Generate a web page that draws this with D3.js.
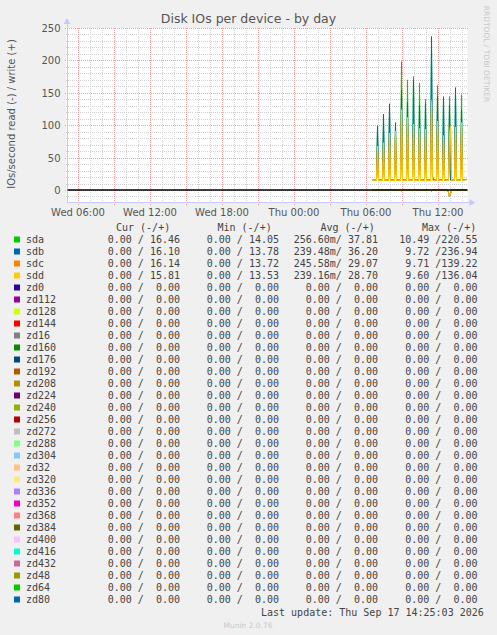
<!DOCTYPE html>
<html><head><meta charset="utf-8">
<script src="https://cdn.jsdelivr.net/npm/d3@7"></script>
<style>
html,body{margin:0;padding:0;background:#f0f0f0;}
svg{display:block;}
text{white-space:pre;}
</style></head>
<body>
<svg id="chart" width="497" height="635"></svg>
<script>
// ---------- DATA ----------
const title = "Disk IOs per device - by day";
const yLabel = "IOs/second read (-) / write (+)";
const yTicks = [0, 50, 100, 150, 200, 250];
const xTickLabels = ["Wed 06:00", "Wed 12:00", "Wed 18:00", "Thu 00:00", "Thu 06:00", "Thu 12:00"];
const startTime = "2026-09-16 05:05";
const endTime = "2026-09-17 14:25";
const firstSample = "2026-09-17 06:35";   // 5-minute samples
const sampleStepMin = 5;

// write (+) values, 5-minute samples from Thu 06:35 to Thu 14:25
const sdaWrite = [15.4,15.6,15.3,15.5,15.7,
  92,15.5,15.4,15.6,15.3,15.5,110,15.6,15.4,15.5,15.7,15.3,
  125,15.5,15.6,15.4,15.5,15.6,98,15.4,15.5,15.6,15.3,15.5,
  198,15.8,15.5,15.4,15.6,15.5,170,15.6,15.4,15.5,15.6,15.4,
  175,15.6,15.5,15.3,15.6,15.5,165,15.5,15.4,15.6,15.5,15.6,
  140,15.5,15.6,15.4,15.5,15.3,220.55,16.2,15.5,15.6,15.4,15.5,
  161,15.6,15.4,15.5,15.6,15.5,143,15.4,15.6,15.5,15.4,15.6,
  144,15.8,15.5,15.6,15.4,15.5,150,15.6,15.5,15.4,15.6,15.5,
  147,15.6,15.8,16.1,16.3,16.46];
const sdbWrite = [15.2,15.4,15.1,15.3,15.5,
  99,15.3,15.2,15.4,15.1,15.3,117,15.4,15.2,15.3,15.5,15.1,
  133,15.3,15.4,15.2,15.3,15.4,104,15.2,15.3,15.4,15.1,15.3,
  154,15.6,15.3,15.2,15.4,15.3,136,15.4,15.2,15.3,15.4,15.2,
  170,15.4,15.3,15.1,15.4,15.3,131,15.3,15.2,15.4,15.3,15.4,
  134,15.3,15.4,15.2,15.3,15.1,236.94,22,15.3,15.4,15.2,15.3,
  144,15.4,15.2,15.3,15.4,15.3,144,15.2,15.4,15.3,15.2,15.4,
  131,15.6,15.3,15.4,15.2,15.3,158,15.4,15.3,15.2,15.4,15.3,
  124,15.4,15.6,15.8,16.0,16.10];
const sdcWrite = [14.9,15.1,14.8,15.0,15.2,
  66,15.0,14.9,15.1,14.8,15.0,72,15.1,14.9,15.0,15.2,14.8,
  86,15.0,15.1,14.9,15.0,15.1,90,14.9,15.0,15.1,14.8,15.0,
  122,15.3,15.0,14.9,15.1,15.0,110,15.1,14.9,15.0,15.1,14.9,
  100,15.1,15.0,14.8,15.1,15.0,94,15.0,14.9,15.1,15.0,15.1,
  92,15.0,15.1,14.9,15.0,14.8,139.22,15.6,15.0,15.1,14.9,15.0,
  104,15.1,14.9,15.0,15.1,15.0,82,14.9,15.1,15.0,14.9,15.1,
  84,100,15.0,15.1,14.9,15.0,95,15.1,15.0,14.9,15.1,15.0,
  102,15.1,15.4,15.7,15.9,16.14];
const sddWrite = [14.7,14.9,14.6,14.8,15.0,
  68,14.8,14.7,14.9,14.6,14.8,73,14.9,14.7,14.8,15.0,14.6,
  88,14.8,14.9,14.7,14.8,14.9,91,14.7,14.8,14.9,14.6,14.8,
  124,15.1,14.8,14.7,14.9,14.8,112,14.9,14.7,14.8,14.9,14.7,
  102,14.9,14.8,14.6,14.9,14.8,95,14.8,14.7,14.9,14.8,14.9,
  94,14.8,14.9,14.7,14.8,14.6,136.04,15.4,14.8,14.9,14.7,14.8,
  106,14.9,14.7,14.8,14.9,14.8,84,14.7,14.9,14.8,14.7,14.9,
  84,98,14.8,14.9,14.7,14.8,97,14.9,14.8,14.7,14.9,14.8,
  104,14.9,15.2,15.5,15.6,15.81];

// read (-) values, same samples
const sdaRead = [0,0,0,0,0, 0,0,0,0,0,0,0,0,0,0,0,0, 0,0,0,0,0,0,0,0,0,0,0,0,
  1.6,0,0,0,0,0,0,0,0,0,0,0, 0,0,0,0,0,0,0,0,0,0,0,0, 0,0,0,0,0,0,1.5,0,0,0,0,0,
  0,0,0,0,0,0,0,0,0,0,0,4, 10.49,6,0,0,0,0,0,0,0,0,0,0, 0,0,0,0,0,0];
const sdbRead = [0,0,0,0,0, 0,0,0,0,0,0,0,0,0,0,0,0, 0,0,0,0,0,0,0,0,0,0,0,0,
  1.5,0,0,0,0,0,0,0,0,0,0,0, 0,0,0,0,0,0,0,0,0,0,0,0, 0,0,0,0,0,0,1.4,0,0,0,0,0,
  0,0,0,0,0,0,0,0,0,0,0,3.8, 9.72,5.8,0,0,0,0,0,0,0,0,0,0, 0,0,0,0,0,0];
const sdcRead = [0,0,0,0,0, 0,0,0,0,0,0,0,0,0,0,0,0, 0,0,0,0,0,0,0,0,0,0,0,0,
  1.5,0,0,0,0,0,0,0,0,0,0,0, 0,0,0,0,0,0,0,0,0,0,0,0, 0,0,0,0,0,0,1.4,0,0,0,0,0,
  0,0,0,0,0,0,0,0,0,0,0,3.8, 9.71,5.7,0,0,0,0,0,0,0,0,0,0, 0,0,0,0,0,0];
const sddRead = [0,0,0,0,0, 0,0,0,0,0,0,0,0,0,0,0,0, 0,0,0,0,0,0,0,0,0,0,0,0,
  1.5,0,0,0,0,0,0,0,0,0,0,0, 0,0,0,0,0,0,0,0,0,0,0,0, 0,0,0,0,0,0,1.4,0,0,0,0,0,
  0,0,0,0,0,0,0,0,0,0,0,3.7, 9.60,5.6,0,0,0,0,0,0,0,0,0,0, 0,0,0,0,0,0];

const devices = ["sda","sdb","sdc","sdd","zd0","zd112","zd128","zd144","zd16","zd160","zd176","zd192","zd208","zd224","zd240","zd256","zd272","zd288","zd304","zd32","zd320","zd336","zd352","zd368","zd384","zd400","zd416","zd432","zd48","zd64","zd80"];
const colors = ["#00CC00","#0066B3","#FF8000","#FFCC00","#330099","#990099","#CCFF00","#FF0000","#808080","#008F00","#00487D","#B35A00","#B38F00","#6B006B","#8FB300","#B30000","#BEBEBE","#80FF80","#80C9FF","#FFC080","#FFE680","#AA80FF","#EE00CC","#FF8080","#666600","#FFBFFF","#00FFCC","#CC6699","#999900","#00CC00","#0066B3"];
const legendHeaders = ["Cur (-/+)", "Min (-/+)", "Avg (-/+)", "Max (-/+)"];
const curCol = ["0.00 / 16.46","0.00 / 16.10","0.00 / 16.14","0.00 / 15.81"];
const minCol = ["0.00 / 14.05","0.00 / 13.78","0.00 / 13.72","0.00 / 13.53"];
const avgCol = ["256.60m/ 37.81","239.48m/ 36.20","245.58m/ 29.07","239.16m/ 28.70"];
const maxCol = ["10.49 /220.55","9.72 /236.94","9.71 /139.22","9.60 /136.04"];
const zeroCell = "0.00 /  0.00";
const lastUpdate = "Last update: Thu Sep 17 14:25:03 2026";
const footer = "Munin 2.0.76";
const watermark = "RRDTOOL / TOBI OETIKER";

// ---------- DRAW ----------
const svg = d3.select("#chart");
const W = 497, H = 635;
const plot = {l: 66.5, r: 466.5, t: 28, b: 202};
const parse = d3.timeParse("%Y-%m-%d %H:%M");
const x = d3.scaleTime().domain([parse(startTime), parse(endTime)]).range([plot.l, plot.r]);
const y = d3.scaleLinear().domain([-18.5, 250]).range([plot.b, plot.t]);
const t0 = parse(firstSample);
const timeAt = i => new Date(t0.getTime() + i * sampleStepMin * 60000);

svg.append("rect").attr("width", W).attr("height", H).attr("fill", "#f0f0f0");
svg.append("rect").attr("x", plot.l).attr("y", plot.t).attr("width", plot.r - plot.l + 1).attr("height", plot.b - plot.t).attr("fill", "#ffffff");

const grid = svg.append("g").attr("shape-rendering", "crispEdges");
// horizontal minor grid
d3.range(-10, 251, 10).forEach(v => {
  const major = v % 50 === 0;
  grid.append("line").attr("x1", plot.l - (major ? 2 : 1)).attr("x2", plot.r + 1)
    .attr("y1", Math.round(y(v)) + 0.5).attr("y2", Math.round(y(v)) + 0.5)
    .attr("stroke", major ? "#f0a0a0" : "#d0d0d0").attr("stroke-dasharray", "1,1")
    .attr("stroke-width", 1);
});
// vertical grid: every hour minor, every 3h major
const hours = d3.timeHour.every(1).range(x.domain()[0], x.domain()[1]);
hours.forEach(h => {
  const major = h.getHours() % 3 === 0;
  const xx = Math.round(x(h)) + 0.5;
  grid.append("line").attr("x1", xx).attr("x2", xx)
    .attr("y1", plot.t).attr("y2", plot.b + (major ? 3 : 2))
    .attr("stroke", major ? "#f0a0a0" : "#d0d0d0").attr("stroke-dasharray", "1,1");
});

// axes lines
const axisCol = "#c8c8ff";
svg.append("line").attr("x1", plot.l + 0.5).attr("x2", plot.l + 0.5).attr("y1", plot.b + 1).attr("y2", plot.t - 5)
  .attr("stroke", axisCol).attr("shape-rendering", "crispEdges");
svg.append("line").attr("x1", plot.l).attr("x2", plot.r + 4).attr("y1", plot.b + 0.5).attr("y2", plot.b + 0.5)
  .attr("stroke", axisCol).attr("shape-rendering", "crispEdges");
svg.append("path").attr("d", `M${plot.l - 3},${plot.t - 4} L${plot.l + 0.5},${plot.t - 10} L${plot.l + 4},${plot.t - 4} Z`).attr("fill", axisCol);
svg.append("path").attr("d", `M${plot.r + 3},${plot.b - 3} L${plot.r + 9},${plot.b + 0.5} L${plot.r + 3},${plot.b + 4} Z`).attr("fill", axisCol);

// y tick labels
const yAxis = d3.axisLeft(y).tickValues(yTicks).tickSize(0).tickPadding(0);
const ya = svg.append("g").attr("transform", `translate(${plot.l - 6},0)`).call(yAxis);
ya.select(".domain").remove();
ya.selectAll("text").attr("font-family", "DejaVu Sans").attr("font-size", 10).attr("fill", "#555").attr("dy", "0.34em");

// x tick labels
const xTickDates = xTickLabels.map((s, i) => d3.timeHour.offset(parse("2026-09-16 06:00"), i * 6));
const xAxis = d3.axisBottom(x).tickValues(xTickDates).tickFormat((d, i) => xTickLabels[i]).tickSize(0).tickPadding(0);
const xa = svg.append("g").attr("transform", `translate(0,${plot.b + 10})`).call(xAxis);
xa.select(".domain").remove();
xa.selectAll("text").attr("font-family", "DejaVu Sans").attr("font-size", 10).attr("fill", "#555").attr("dy", "0.35em").attr("y", 0);

// data lines
const series = [
  {w: sdaWrite, r: sdaRead, c: colors[0]},
  {w: sdbWrite, r: sdbRead, c: colors[1]},
  {w: sdcWrite, r: sdcRead, c: colors[2]},
  {w: sddWrite, r: sddRead, c: colors[3]}
];
const line = d3.line().x((d, i) => x(timeAt(i))).y(d => y(d));
const lines = svg.append("g");
series.forEach(s => {
  lines.append("path").attr("d", line(s.r.map(v => -v))).attr("fill", "none").attr("stroke", s.c).attr("stroke-width", 1);
  lines.append("path").attr("d", line(s.w)).attr("fill", "none").attr("stroke", s.c).attr("stroke-width", 1);
});

// zero line
svg.append("line").attr("x1", plot.l + 1).attr("x2", plot.r + 1).attr("y1", y(0)).attr("y2", y(0))
  .attr("stroke", "#000").attr("stroke-width", 1.3);

// title & labels
svg.append("text").attr("x", 248.5).attr("y", 23).attr("text-anchor", "middle")
  .attr("font-family", "DejaVu Sans").attr("font-size", 12.5).attr("fill", "#555").text(title);
svg.append("text").attr("transform", `translate(15,114) rotate(-90)`).attr("text-anchor", "middle")
  .attr("font-family", "DejaVu Sans").attr("font-size", 10).attr("fill", "#555").text(yLabel);
svg.append("text").attr("transform", `translate(484,54) rotate(90)`).attr("text-anchor", "middle")
  .attr("font-family", "DejaVu Sans").attr("font-size", 7.5).attr("fill", "#c8c8c8").text(watermark);

// legend
const mono = "DejaVu Sans Mono";
const lg = svg.append("g").attr("font-family", mono).attr("font-size", 10).attr("fill", "#444");
const headerX = [116, 217.5, 320.5, 422];
legendHeaders.forEach((h, i) => lg.append("text").attr("x", headerX[i]).attr("y", 231).text(h));
const colEnd = [180, 279, 378, 477.5];
devices.forEach((d, i) => {
  const yy = 243 + i * 12;
  lg.append("rect").attr("x", 14).attr("y", yy - 6.5).attr("width", 6).attr("height", 6).attr("fill", colors[i]);
  lg.append("text").attr("x", 26).attr("y", yy).text(d);
  const cells = i < 4 ? [curCol[i], minCol[i], avgCol[i], maxCol[i]] : [zeroCell, zeroCell, zeroCell, zeroCell];
  cells.forEach((c, j) => lg.append("text").attr("x", colEnd[j]).attr("y", yy).attr("text-anchor", "end").text(c));
});
lg.append("text").attr("x", 261).attr("y", 615.5).text(lastUpdate);
svg.append("text").attr("x", 248).attr("y", 627.5).attr("text-anchor", "middle")
  .attr("font-family", "DejaVu Sans").attr("font-size", 7.5).attr("fill", "#c8c8c8").text(footer);
</script>
</body></html>
